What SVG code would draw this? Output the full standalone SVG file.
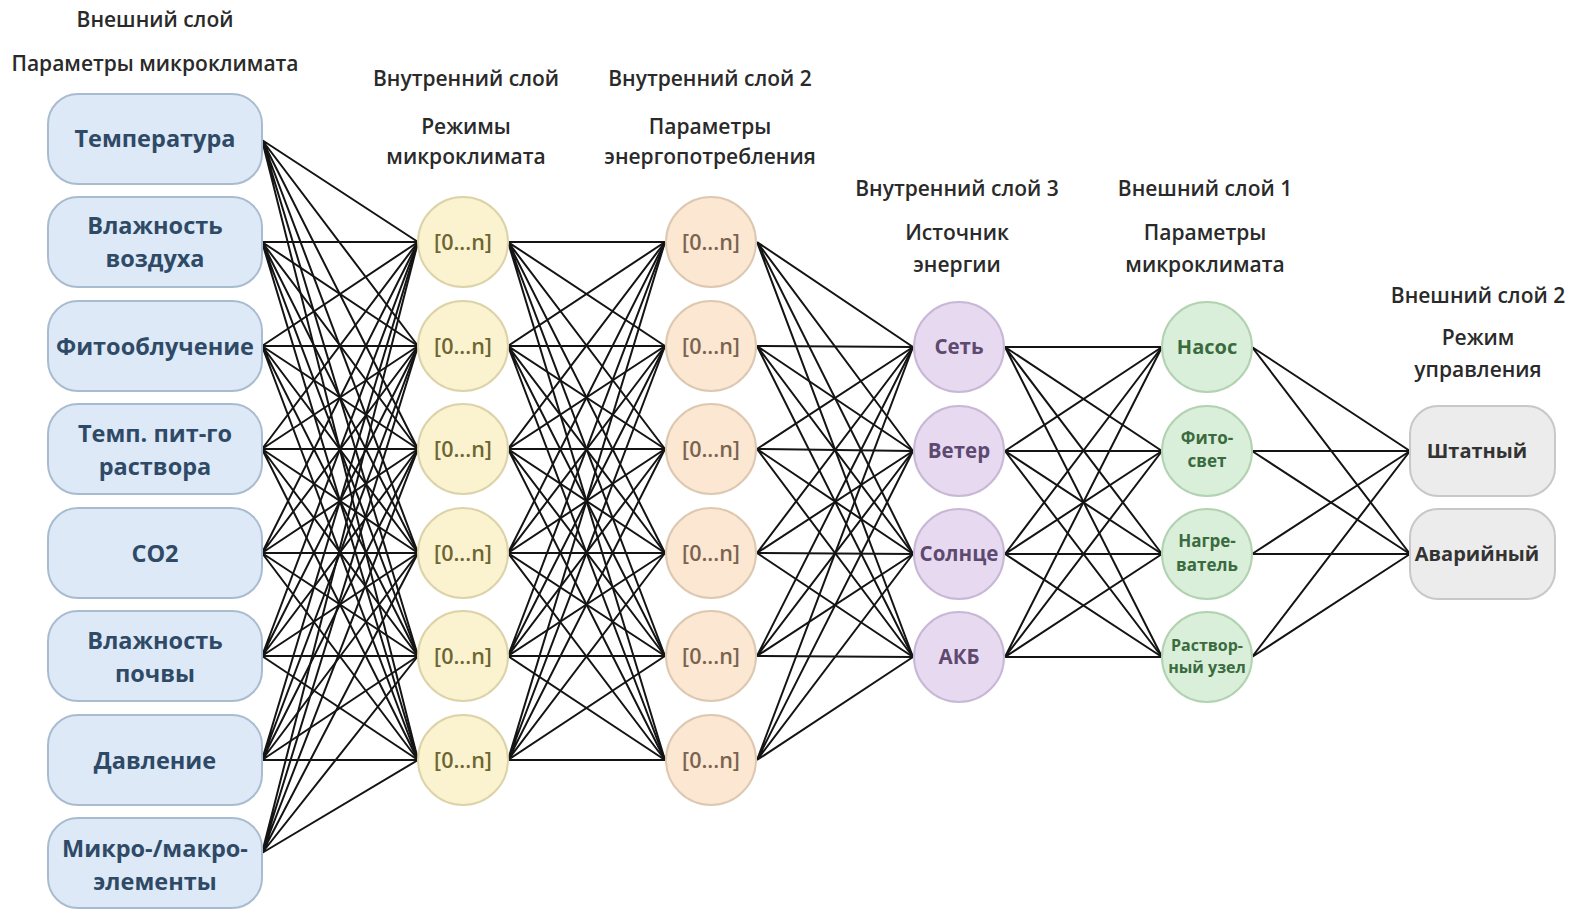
<svg xmlns="http://www.w3.org/2000/svg" width="1574" height="912" viewBox="0 0 1574 912">
<style>
.hdr{font-family:"Open Sans","Noto Sans","Liberation Sans",sans-serif;font-weight:600;font-size:21px;fill:#2a2a2a;text-anchor:middle}
.t{font-family:"Open Sans","Noto Sans","Liberation Sans",sans-serif;font-weight:700;text-anchor:middle}
.box{fill:#dde9f7;stroke:#a9bccf;stroke-width:2}
.bt{font-size:23.5px;fill:#2f4a66}
.c1{fill:#fbf3d0;stroke:#dcd3a8;stroke-width:2}
.c1t{font-size:21.5px;fill:#6e6632;font-weight:600}
.c2{fill:#fce7d3;stroke:#ddc8b2;stroke-width:2}
.c2t{font-size:21.5px;fill:#7a6450;font-weight:600}
.c3{fill:#e7daf0;stroke:#c8b8d6;stroke-width:2}
.c3t{font-size:20.5px;fill:#5e4a70}
.c4{fill:#d9efd9;stroke:#b2d2b2;stroke-width:2}
.c4t{fill:#3a6b3e}
.gb{fill:#ececec;stroke:#c8c8c8;stroke-width:2}
.gt{font-size:20px;fill:#333}
.con path{fill:none;stroke:#141414;stroke-width:2}
</style>
<rect width="1574" height="912" fill="#fff"/>
<g id="headers">
<text class="hdr" x="155" y="27">Внешний слой</text>
<text class="hdr" x="155" y="71">Параметры микроклимата</text>
<text class="hdr" x="466" y="86">Внутренний слой</text>
<text class="hdr" x="466" y="134">Режимы</text>
<text class="hdr" x="466" y="164">микроклимата</text>
<text class="hdr" x="710" y="86">Внутренний слой 2</text>
<text class="hdr" x="710" y="134">Параметры</text>
<text class="hdr" x="710" y="164">энергопотребления</text>
<text class="hdr" x="957" y="196">Внутренний слой 3</text>
<text class="hdr" x="957" y="240">Источник</text>
<text class="hdr" x="957" y="272">энергии</text>
<text class="hdr" x="1205" y="196">Внешний слой 1</text>
<text class="hdr" x="1205" y="240">Параметры</text>
<text class="hdr" x="1205" y="272">микроклимата</text>
<text class="hdr" x="1478" y="303">Внешний слой 2</text>
<text class="hdr" x="1478" y="345">Режим</text>
<text class="hdr" x="1478" y="377">управления</text>
</g>
<g id="connectors" class="con">
<path d="M262 140L418 242M262 140L418 346M262 140L418 449M262 140L418 553M262 140L418 656M262 140L418 760"/>
<path d="M262 242L418 242M262 242L418 346M262 242L418 449M262 242L418 553M262 242L418 656M262 242L418 760"/>
<path d="M262 346L418 242M262 346L418 346M262 346L418 449M262 346L418 553M262 346L418 656M262 346L418 760"/>
<path d="M262 449L418 242M262 449L418 346M262 449L418 449M262 449L418 553M262 449L418 656M262 449L418 760"/>
<path d="M262 553L418 242M262 553L418 346M262 553L418 449M262 553L418 553M262 553L418 656M262 553L418 760"/>
<path d="M262 656L418 242M262 656L418 346M262 656L418 449M262 656L418 553M262 656L418 656M262 656L418 760"/>
<path d="M262 760L418 242M262 760L418 346M262 760L418 449M262 760L418 553M262 760L418 656M262 760L418 760"/>
<path d="M262 853L418 242M262 853L418 346M262 853L418 449M262 853L418 553M262 853L418 656M262 853L418 760"/>
<path d="M508 242L665 242M508 242L665 346M508 242L665 449M508 242L665 553M508 242L665 656M508 242L665 760"/>
<path d="M508 346L665 242M508 346L665 346M508 346L665 449M508 346L665 553M508 346L665 656M508 346L665 760"/>
<path d="M508 449L665 242M508 449L665 346M508 449L665 449M508 449L665 553M508 449L665 656M508 449L665 760"/>
<path d="M508 553L665 242M508 553L665 346M508 553L665 449M508 553L665 553M508 553L665 656M508 553L665 760"/>
<path d="M508 656L665 242M508 656L665 346M508 656L665 449M508 656L665 553M508 656L665 656M508 656L665 760"/>
<path d="M508 760L665 242M508 760L665 346M508 760L665 449M508 760L665 553M508 760L665 656M508 760L665 760"/>
<path d="M757 242L913 347M757 242L913 451M757 242L913 554M757 242L913 657"/>
<path d="M757 346L913 347M757 346L913 451M757 346L913 554M757 346L913 657"/>
<path d="M757 449L913 347M757 449L913 451M757 449L913 554M757 449L913 657"/>
<path d="M757 553L913 347M757 553L913 451M757 553L913 554M757 553L913 657"/>
<path d="M757 656L913 347M757 656L913 451M757 656L913 554M757 656L913 657"/>
<path d="M757 760L913 347M757 760L913 451M757 760L913 554M757 760L913 657"/>
<path d="M1005 347L1162 347M1005 347L1162 451M1005 347L1162 554M1005 347L1162 657"/>
<path d="M1005 451L1162 347M1005 451L1162 451M1005 451L1162 554M1005 451L1162 657"/>
<path d="M1005 554L1162 347M1005 554L1162 451M1005 554L1162 554M1005 554L1162 657"/>
<path d="M1005 657L1162 347M1005 657L1162 451M1005 657L1162 554M1005 657L1162 657"/>
<path d="M1252 347L1410 451M1252 347L1410 554"/>
<path d="M1252 451L1410 451M1252 451L1410 554"/>
<path d="M1252 554L1410 451M1252 554L1410 554"/>
<path d="M1252 657L1410 451M1252 657L1410 554"/>
</g>
<g id="in-temp"><rect class="box" x="48" y="94" width="214" height="90" rx="30"/><text class="t bt" x="155" y="147">Температура</text></g>
<g id="in-air-hum"><rect class="box" x="48" y="197" width="214" height="90" rx="30"/><text class="t bt" x="155" y="234">Влажность</text><text class="t bt" x="155" y="267">воздуха</text></g>
<g id="in-phyto"><rect class="box" x="48" y="301" width="214" height="90" rx="30"/><text class="t bt" x="155" y="355">Фитооблучение</text></g>
<g id="in-sol-temp"><rect class="box" x="48" y="404" width="214" height="90" rx="30"/><text class="t bt" x="155" y="442">Темп. пит-го</text><text class="t bt" x="155" y="475">раствора</text></g>
<g id="in-co2"><rect class="box" x="48" y="508" width="214" height="90" rx="30"/><text class="t bt" x="155" y="562">CO2</text></g>
<g id="in-soil"><rect class="box" x="48" y="611" width="214" height="90" rx="30"/><text class="t bt" x="155" y="649">Влажность</text><text class="t bt" x="155" y="682">почвы</text></g>
<g id="in-press"><rect class="box" x="48" y="715" width="214" height="90" rx="30"/><text class="t bt" x="155" y="769">Давление</text></g>
<g id="in-micro"><rect class="box" x="48" y="818" width="214" height="90" rx="30"/><text class="t bt" x="155" y="857">Микро-/макро-</text><text class="t bt" x="155" y="890">элементы</text></g>
<g id="h1-1"><circle class="c1" cx="463" cy="242" r="45"/><text class="t c1t" x="463" y="250">[0...n]</text></g>
<g id="h1-2"><circle class="c1" cx="463" cy="346" r="45"/><text class="t c1t" x="463" y="354">[0...n]</text></g>
<g id="h1-3"><circle class="c1" cx="463" cy="449" r="45"/><text class="t c1t" x="463" y="457">[0...n]</text></g>
<g id="h1-4"><circle class="c1" cx="463" cy="553" r="45"/><text class="t c1t" x="463" y="561">[0...n]</text></g>
<g id="h1-5"><circle class="c1" cx="463" cy="656" r="45"/><text class="t c1t" x="463" y="664">[0...n]</text></g>
<g id="h1-6"><circle class="c1" cx="463" cy="760" r="45"/><text class="t c1t" x="463" y="768">[0...n]</text></g>
<g id="h2-1"><circle class="c2" cx="711" cy="242" r="45"/><text class="t c2t" x="711" y="250">[0...n]</text></g>
<g id="h2-2"><circle class="c2" cx="711" cy="346" r="45"/><text class="t c2t" x="711" y="354">[0...n]</text></g>
<g id="h2-3"><circle class="c2" cx="711" cy="449" r="45"/><text class="t c2t" x="711" y="457">[0...n]</text></g>
<g id="h2-4"><circle class="c2" cx="711" cy="553" r="45"/><text class="t c2t" x="711" y="561">[0...n]</text></g>
<g id="h2-5"><circle class="c2" cx="711" cy="656" r="45"/><text class="t c2t" x="711" y="664">[0...n]</text></g>
<g id="h2-6"><circle class="c2" cx="711" cy="760" r="45"/><text class="t c2t" x="711" y="768">[0...n]</text></g>
<g id="src-grid"><circle class="c3" cx="959" cy="347" r="45"/><text class="t c3t" x="959" y="354">Сеть</text></g>
<g id="src-wind"><circle class="c3" cx="959" cy="451" r="45"/><text class="t c3t" x="959" y="458">Ветер</text></g>
<g id="src-sun"><circle class="c3" cx="959" cy="554" r="45"/><text class="t c3t" x="959" y="561">Солнце</text></g>
<g id="src-bat"><circle class="c3" cx="959" cy="657" r="45"/><text class="t c3t" x="959" y="664">АКБ</text></g>
<g id="out-pump"><circle class="c4" cx="1207" cy="347" r="45"/><text class="t c4t" x="1207" y="354" font-size="20">Насос</text></g>
<g id="out-light"><circle class="c4" cx="1207" cy="451" r="45"/><text class="t c4t" x="1207" y="444" font-size="17">Фито-</text><text class="t c4t" x="1207" y="467" font-size="17">свет</text></g>
<g id="out-heat"><circle class="c4" cx="1207" cy="554" r="45"/><text class="t c4t" x="1207" y="547" font-size="17">Нагре-</text><text class="t c4t" x="1207" y="571" font-size="17">ватель</text></g>
<g id="out-sol"><circle class="c4" cx="1207" cy="657" r="45"/><text class="t c4t" x="1207" y="651" font-size="16">Раствор-</text><text class="t c4t" x="1207" y="673" font-size="16">ный узел</text></g>
<g id="mode-normal"><rect class="gb" x="1410" y="406" width="145" height="90" rx="28"/><text class="t gt" x="1477" y="458">Штатный</text></g>
<g id="mode-emerg"><rect class="gb" x="1410" y="509" width="145" height="90" rx="28"/><text class="t gt" x="1477" y="561">Аварийный</text></g>
</svg>
